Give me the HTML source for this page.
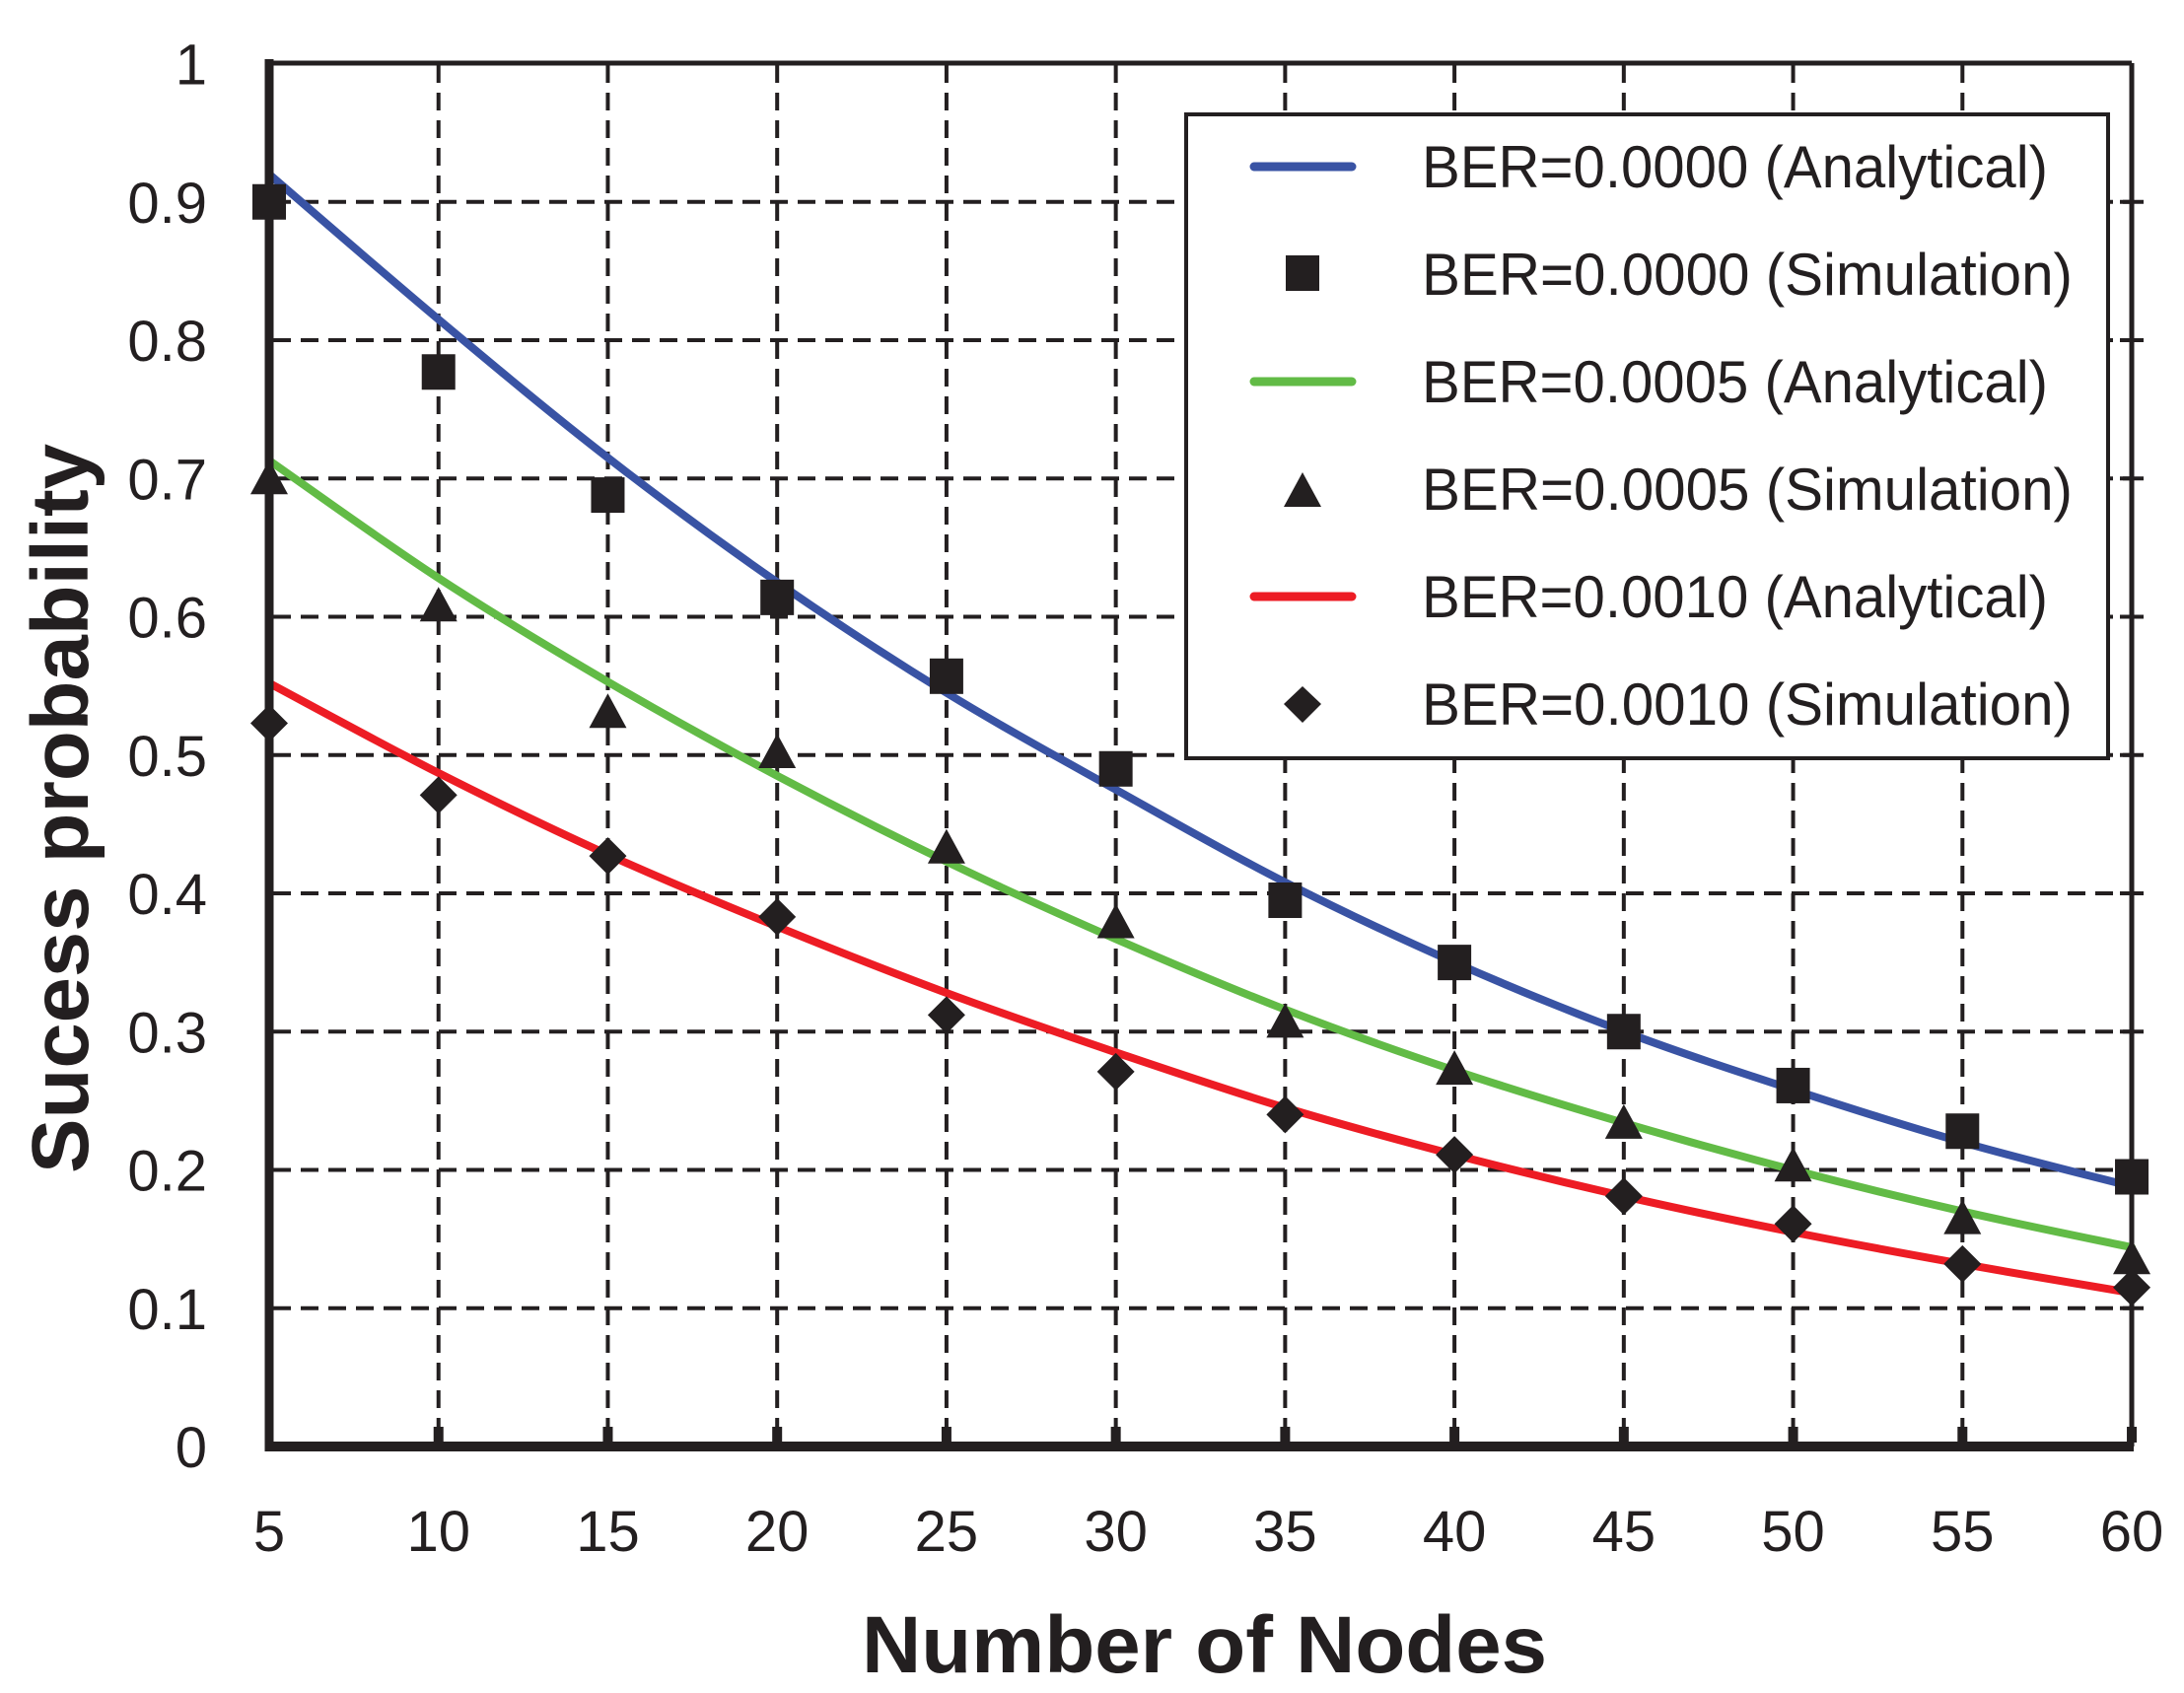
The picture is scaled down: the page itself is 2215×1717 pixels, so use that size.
<!DOCTYPE html>
<html><head><meta charset="utf-8"><style>
html,body{margin:0;padding:0;background:#fff;}
svg{display:block;}
text{font-family:"Liberation Sans",sans-serif;fill:#231f20;}
</style></head><body>
<svg id="s" width="2215" height="1717" viewBox="0 0 2215 1717" xmlns="http://www.w3.org/2000/svg">
<rect width="2215" height="1717" fill="#fff"/>
<g id="grid" stroke="#231f20" stroke-width="4" stroke-dasharray="18,10" fill="none"></g>
<g id="curves" fill="none" stroke-width="8" stroke-linecap="round"></g>
<g id="marks" fill="#231f20"></g>
<g stroke="#231f20" fill="none">
<line x1="273" y1="64" x2="2162" y2="64" stroke-width="5"/>
<line x1="2162" y1="64" x2="2162" y2="1467" stroke-width="5"/>
<line x1="273" y1="60" x2="273" y2="1472" stroke-width="9"/>
<line x1="269" y1="1467" x2="2164" y2="1467" stroke-width="10"/>
</g>
<g id="ticks" fill="#231f20"></g>
<g id="labels" font-size="58"></g>
<rect x="1203" y="116" width="935" height="653" fill="#fff" stroke="#231f20" stroke-width="4"/>
<g font-size="60">
<line x1="1272" y1="169" x2="1371" y2="169" stroke="#3953a4" stroke-width="9" stroke-linecap="round"/>
<rect x="1304" y="259" width="34" height="36" fill="#231f20"/>
<line x1="1272" y1="387" x2="1371" y2="387" stroke="#62bb46" stroke-width="9" stroke-linecap="round"/>
<polygon points="1321,479 1340,514 1302,514" fill="#231f20"/>
<line x1="1272" y1="605" x2="1371" y2="605" stroke="#ed1c24" stroke-width="9" stroke-linecap="round"/>
<polygon points="1321,696 1340,714 1321,733 1302,714" fill="#231f20"/>
<text x="1442" y="190" textLength="635" lengthAdjust="spacingAndGlyphs">BER=0.0000 (Analytical)</text>
<text x="1442" y="299" textLength="660" lengthAdjust="spacingAndGlyphs">BER=0.0000 (Simulation)</text>
<text x="1442" y="408" textLength="635" lengthAdjust="spacingAndGlyphs">BER=0.0005 (Analytical)</text>
<text x="1442" y="517" textLength="660" lengthAdjust="spacingAndGlyphs">BER=0.0005 (Simulation)</text>
<text x="1442" y="626" textLength="635" lengthAdjust="spacingAndGlyphs">BER=0.0010 (Analytical)</text>
<text x="1442" y="735" textLength="660" lengthAdjust="spacingAndGlyphs">BER=0.0010 (Simulation)</text>
</g>
<text x="874" y="1696" font-size="82" font-weight="bold" textLength="695" lengthAdjust="spacingAndGlyphs">Number of Nodes</text>
<text transform="translate(89,1190) rotate(-90)" font-size="82" font-weight="bold" textLength="740" lengthAdjust="spacingAndGlyphs">Sucess probability</text>
</svg>
<script>
var NS="http://www.w3.org/2000/svg";
function X(n){return 273+(n-5)/5*171.73;}
function Y(v){return 1467-v*1402.5;}
function el(p,t,a){var e=document.createElementNS(NS,t);for(var k in a)e.setAttribute(k,a[k]);document.getElementById(p).appendChild(e);return e;}
var N=[5,10,15,20,25,30,35,40,45,50,55,60];
for(var i=1;i<11;i++){el("grid","line",{x1:X(N[i]),y1:66,x2:X(N[i]),y2:1462});}
for(var v=1;v<10;v++){el("grid","line",{x1:277,y1:Y(v/10),x2:2160,y2:Y(v/10)});}
for(var i=1;i<12;i++){el("ticks","rect",{x:X(N[i])-5,y:1447,width:10,height:16});}
for(var v=1;v<10;v++){el("ticks","rect",{x:2150,y:Y(v/10)-2,width:24,height:4});}
for(var v=0;v<=10;v++){var t=el("labels","text",{x:210,y:Y(v/10)+21,"text-anchor":"end"});t.textContent=(v==0?"0":v==10?"1":"0."+v);}
for(var i=0;i<12;i++){var t=el("labels","text",{x:X(N[i]),y:1573,"text-anchor":"middle"});t.textContent=N[i];}
var curves=[["#3953a4",[0.92,0.815,0.715,0.625,0.545,0.475,0.408,0.350,0.300,0.258,0.220,0.188]],
["#62bb46",[0.713,0.628,0.553,0.485,0.423,0.367,0.316,0.272,0.234,0.200,0.170,0.144]],
["#ed1c24",[0.552,0.487,0.428,0.376,0.328,0.285,0.245,0.211,0.181,0.155,0.132,0.111]]];
curves.forEach(function(c){
 var P=N.map(function(n,i){return [X(n),Y(c[1][i])];});
 var d="M"+P[0][0]+","+P[0][1];
 for(var i=0;i<P.length-1;i++){
  var p0=P[Math.max(i-1,0)],p1=P[i],p2=P[i+1],p3=P[Math.min(i+2,P.length-1)];
  d+=" C"+(p1[0]+(p2[0]-p0[0])/6)+","+(p1[1]+(p2[1]-p0[1])/6)+" "+(p2[0]-(p3[0]-p1[0])/6)+","+(p2[1]-(p3[1]-p1[1])/6)+" "+p2[0]+","+p2[1];
 }
 el("curves","path",{d:d,stroke:c[0]});
});
var sq=[0.90,0.777,0.688,0.614,0.557,0.490,0.395,0.350,0.300,0.261,0.228,0.195];
var tr=[0.70,0.608,0.531,0.502,0.433,0.379,0.307,0.273,0.234,0.203,0.165,0.136];
var di=[0.523,0.471,0.427,0.383,0.312,0.271,0.240,0.211,0.181,0.161,0.132,0.115];
N.forEach(function(n,i){
 var x=X(n),y=Y(sq[i]);
 el("marks","rect",{x:x-17,y:y-18,width:34,height:36});
 y=Y(tr[i]);
 el("marks","polygon",{points:x+","+(y-19)+" "+(x+19)+","+(y+16)+" "+(x-19)+","+(y+16)});
 y=Y(di[i]);
 el("marks","polygon",{points:x+","+(y-19)+" "+(x+19)+","+y+" "+x+","+(y+19)+" "+(x-19)+","+y});
});
</script>
</body></html>
